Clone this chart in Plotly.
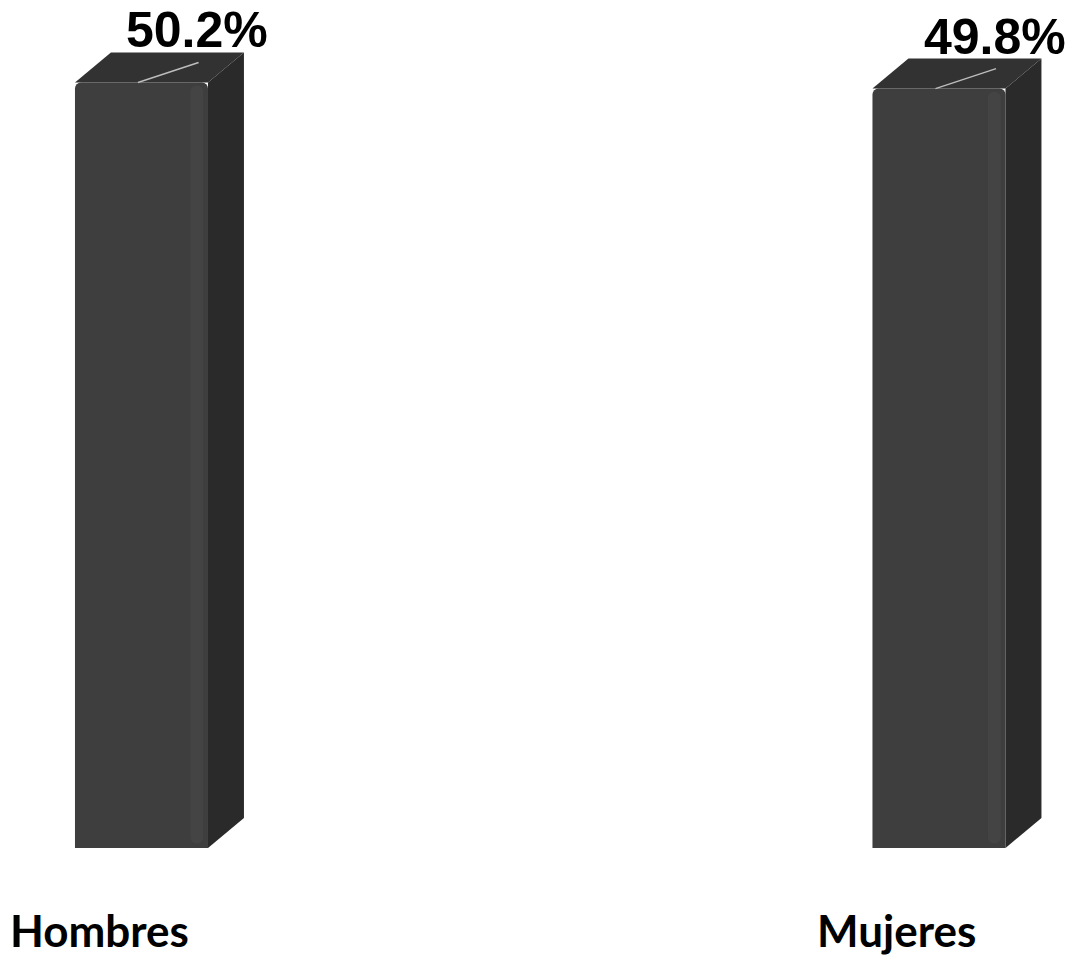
import plotly.graph_objects as go

categories = ["Hombres", "Mujeres"]
values = [50.2, 49.8]
value_labels = ["50.2%", "49.8%"]

# geometry (data units)
W = 0.1668          # bar front width
DX = 0.0451         # 3D depth (x)
DY = 1.967          # 3D depth (y)
FRONT = "#3e3e3e"
FRONT_LIGHT = "#444444"
SIDE = "#2a2a2a"
TOP = "#323232"

xs = list(range(len(categories)))

fig = go.Figure()

# side and top faces built from the data values
for i, v in zip(xs, values):
    xl, xr = i - W / 2, i + W / 2
    fig.add_trace(go.Scatter(
        x=[xr, xr + DX, xr + DX, xr, xr], y=[0, DY, v + DY, v, 0],
        mode="lines", fill="toself", fillcolor=SIDE, line=dict(width=0),
        hoverinfo="skip", showlegend=False))
    fig.add_trace(go.Scatter(
        x=[xl, xl + DX, xr + DX, xr, xl], y=[v, v + DY, v + DY, v, v],
        mode="lines", fill="toself", fillcolor=TOP, line=dict(width=0),
        hoverinfo="skip", showlegend=False))

# front faces
fig.add_trace(go.Bar(
    x=xs, y=values, width=W, marker=dict(color=FRONT, line=dict(width=0)),
    hoverinfo="skip", showlegend=False))

# slight lighter band near right edge of front face
fig.add_trace(go.Bar(
    x=[i + W / 2 - 0.014 for i in xs], y=[v - 0.5 for v in values], width=0.016,
    base=[0.3] * len(values),
    marker=dict(color=FRONT_LIGHT, line=dict(width=0)),
    hoverinfo="skip", showlegend=False))

# subtle highlights on top faces
for i, v in zip(xs, values):
    xl = i - W / 2
    fig.add_trace(go.Scatter(
        x=[xl + 0.079, xl + 0.155], y=[v, v + 1.31], mode="lines",
        line=dict(color="#bdbdbd", width=1.5), hoverinfo="skip", showlegend=False))

# value labels
for i, v, t in zip(xs, values, value_labels):
    fig.add_annotation(
        x=i, y=v + DY, text=f"<b>{t}</b>", showarrow=False,
        xanchor="center", yanchor="bottom", xshift=56, yshift=-8,
        font=dict(family="Liberation Sans, Arial", size=50, color="#000000"))

# category labels
for i, c in zip(xs, categories):
    fig.add_annotation(
        x=i, y=0, text=f"<b>{c}</b>", showarrow=False,
        xanchor="center", yanchor="middle", xshift=-42, yshift=-82,
        font=dict(family="Lato", size=44, color="#000000"))

fig.update_layout(
    width=1074, height=959, autosize=False,
    margin=dict(l=0, r=0, t=0, b=0),
    paper_bgcolor="white", plot_bgcolor="white",
    barmode="overlay",
    barcornerradius=6,
    xaxis=dict(range=[-0.1774, 1.1693], visible=False, fixedrange=True),
    yaxis=dict(range=[-7.28, 55.61], visible=False, fixedrange=True),
)

fig.write_html("out.html", config={"displayModeBar": False},
               post_script="document.body.style.margin='0';")
